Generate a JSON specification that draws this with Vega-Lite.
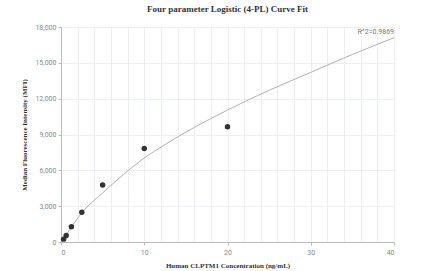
{
  "$schema": "https://vega.github.io/schema/vega-lite/v6.json",
  "width": 333,
  "height": 215,
  "autosize": {"type": "none"},
  "padding": {"left": 61, "top": 27, "right": 32, "bottom": 29},
  "background": "white",
  "config": {"view": {"stroke": null}},
  "title": {
    "text": "Four parameter Logistic (4-PL) Curve Fit",
    "font": "Liberation Serif",
    "fontSize": 9,
    "fontWeight": "bold",
    "color": "#333333",
    "anchor": "middle",
    "offset": 9
  },
  "datasets": {
    "points": [
      {"conc": 0.3125, "mfi": 240},
      {"conc": 0.625, "mfi": 540},
      {"conc": 1.25, "mfi": 1270},
      {"conc": 2.5, "mfi": 2500},
      {"conc": 5, "mfi": 4770},
      {"conc": 10, "mfi": 7820},
      {"conc": 20, "mfi": 9650}
    ],
    "curve": [
      {"conc": 0, "mfi": 0},
      {"conc": 0.3125, "mfi": 300},
      {"conc": 0.625, "mfi": 620},
      {"conc": 1.25, "mfi": 1250},
      {"conc": 2.5, "mfi": 2450},
      {"conc": 5, "mfi": 4100},
      {"conc": 7.5, "mfi": 5650},
      {"conc": 10, "mfi": 7030},
      {"conc": 12.5, "mfi": 8150},
      {"conc": 15, "mfi": 9200},
      {"conc": 17.5, "mfi": 10150},
      {"conc": 20, "mfi": 11050},
      {"conc": 25, "mfi": 12700},
      {"conc": 30, "mfi": 14200},
      {"conc": 35, "mfi": 15700},
      {"conc": 40, "mfi": 17100}
    ],
    "label": [
      {"conc": 40, "mfi": 17100, "text": "R^2=0.9869"}
    ]
  },
  "resolve": {"axis": {"x": "independent"}},
  "encoding": {
    "y": {
      "field": "mfi", "type": "quantitative",
      "scale": {"domain": [0, 18000], "nice": false},
      "axis": {
        "values": [0, 3000, 6000, 9000, 12000, 15000, 18000],
        "format": ",.0f",
        "grid": true, "gridColor": "#eceef6",
        "domainColor": "#bbbbbb", "tickColor": "#bbbbbb", "tickSize": 3,
        "labelFont": "Roboto", "labelFontSize": 7, "labelColor": "#888888", "labelPadding": 2,
        "title": "Median Fluorescence Intensity (MFI)",
        "titleFont": "Liberation Serif", "titleFontSize": 7, "titleFontWeight": "bold", "titleColor": "#333333",
        "titlePadding": 7
      }
    }
  },
  "layer": [
    {
      "data": {"name": "curve"},
      "mark": {"type": "line", "color": "#b0b0b0", "strokeWidth": 1, "interpolate": "monotone"},
      "encoding": {
        "x": {
          "field": "conc", "type": "quantitative",
          "scale": {"domain": [0, 40], "nice": false},
          "axis": {"orient": "bottom", "values": [0,2,4,6,8,10,12,14,16,18,20,22,24,26,28,30,32,34,36,38,40], "labels": false, "ticks": false, "domain": false, "title": null, "grid": true, "gridColor": "#eceef6", "gridWidth": 1}
        }
      }
    },
    {
      "data": {"name": "points"},
      "mark": {"type": "circle", "color": "#333333", "opacity": 1, "size": 30},
      "encoding": {
        "x": {
          "field": "conc", "type": "quantitative",
          "axis": {
            "orient": "bottom",
            "values": [0, 10, 20, 30, 40], "grid": false,
            "domainColor": "#bbbbbb", "tickColor": "#bbbbbb", "tickSize": 3,
            "labelFont": "Roboto", "labelFontSize": 7, "labelColor": "#888888", "labelPadding": 3,
            "title": "Human CLPTM1 Concentration (ng/mL)",
            "titleFont": "Liberation Serif", "titleFontSize": 7, "titleFontWeight": "bold", "titleColor": "#333333",
            "titlePadding": 6
          }
        }
      }
    },
    {
      "data": {"name": "label"},
      "mark": {"type": "text", "align": "right", "baseline": "bottom", "dy": -3, "font": "Roboto", "fontSize": 7, "color": "#777777"},
      "encoding": {
        "x": {"field": "conc", "type": "quantitative", "axis": null},
        "text": {"field": "text"}
      }
    }
  ]
}
